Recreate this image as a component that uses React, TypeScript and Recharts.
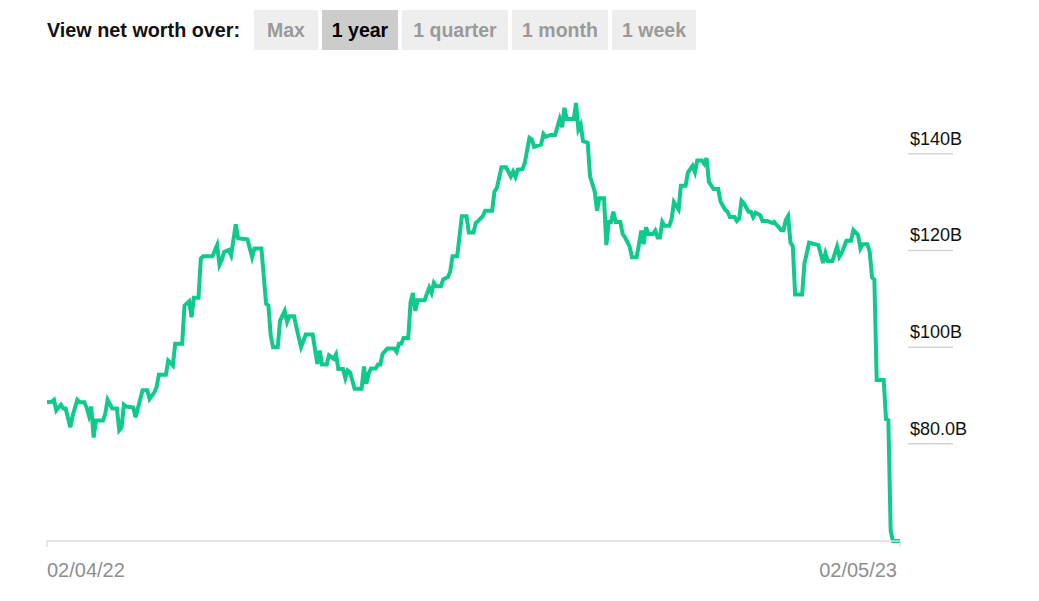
import React from 'react';
import { LineChart, Line, XAxis, YAxis } from 'recharts';

// days since 02/04/22
const days = [
  0, 2, 3, 4, 5, 6, 7, 8, 10, 11, 13, 14, 16, 17, 18, 19, 20, 21, 24, 25,
  26, 28, 30, 31, 32, 33, 34, 37, 38, 41, 43, 44, 46, 47, 48, 51, 52, 54, 55, 58,
  59, 61, 62, 63, 65, 66, 67, 68, 71, 73, 74, 75, 76, 78, 79, 81, 82, 86, 88, 89,
  92, 94, 95, 96, 97, 99, 100, 102, 103, 104, 106, 107, 109, 111, 114, 116, 117, 118, 120, 121,
  123, 124, 125, 127, 128, 129, 130, 132, 135, 136, 137, 138, 139, 141, 142, 143, 144, 146, 149, 150,
  151, 152, 153, 155, 156, 157, 158, 159, 162, 164, 165, 166, 167, 169, 170, 172, 173, 174, 176, 178,
  180, 181, 183, 184, 185, 187, 188, 191, 192, 193, 195, 197, 199, 200, 201, 202, 204, 205, 207, 208,
  209, 212, 213, 214, 216, 218, 220, 221, 222, 223, 226, 227, 228, 229, 230, 232, 233, 235, 236, 237,
  239, 240, 241, 242, 243, 244, 246, 247, 248, 250, 251, 253, 255, 256, 257, 258, 260, 261, 262, 263,
  264, 265, 267, 268, 269, 271, 272, 274, 275, 277, 278, 279, 281, 282, 283, 284, 286, 288, 289, 291,
  292, 293, 295, 296, 297, 298, 299, 301, 302, 303, 304, 306, 307, 309, 311, 312, 315, 316, 317, 318,
  319, 320, 321, 324, 325, 327, 331, 333, 334, 335, 337, 339, 340, 341, 343, 345, 346, 348, 349, 350,
  352, 353, 354, 355, 356, 359, 360, 361, 362, 363, 366,
];

// net worth, $ billions
const netWorth = [
  88.6, 88.7, 89.1, 86.9, 87.5, 88.1, 87.3, 87.3, 83.4, 85.8, 89.1, 88.6, 88.6, 87.5, 85.8, 87.7, 81.3, 84.8, 84.8, 86.2,
  89.1, 87.3, 87.3, 82.8, 83.4, 88.1, 87.7, 87.5, 85.5, 91.1, 91.1, 89.3, 90.6, 91.7, 94.3, 94.3, 97.2, 96.2, 100.7, 100.7,
  108.6, 109.5, 106.2, 110.2, 110.2, 118.3, 118.8, 118.8, 118.8, 121.1, 117.0, 118.0, 119.7, 120.1, 119.0, 125.4, 122.5, 122.3, 118.6, 120.4,
  120.4, 109.0, 108.6, 102.4, 100.0, 100.0, 105.5, 107.5, 105.2, 106.4, 106.4, 104.1, 100.0, 102.6, 102.6, 96.5, 99.3, 96.4, 96.4, 98.3,
  97.6, 98.5, 95.5, 95.5, 93.6, 95.2, 94.8, 91.4, 91.4, 96.0, 92.4, 94.5, 95.6, 95.6, 96.4, 96.4, 98.6, 99.7, 99.7, 99.0,
  100.7, 100.7, 101.9, 101.9, 109.3, 111.2, 107.5, 109.7, 109.7, 112.3, 111.2, 113.3, 112.6, 112.6, 114.0, 114.5, 115.6, 118.8, 118.8, 127.1,
  127.1, 123.7, 123.7, 125.7, 126.1, 127.1, 128.2, 128.2, 132.2, 132.9, 137.2, 137.2, 135.3, 136.3, 135.2, 136.7, 136.8, 138.1, 143.3, 143.0,
  141.4, 141.9, 144.1, 143.5, 143.9, 143.9, 147.2, 145.5, 149.5, 147.2, 147.2, 150.5, 145.0, 146.0, 142.6, 142.3, 135.3, 132.2, 128.2, 130.8,
  130.8, 121.1, 125.9, 125.9, 128.0, 125.9, 125.9, 123.4, 122.7, 120.8, 118.6, 118.6, 124.1, 121.3, 124.8, 123.4, 123.4, 124.1, 122.7, 122.7,
  125.9, 125.1, 125.1, 126.5, 130.0, 128.5, 133.4, 133.4, 136.1, 137.5, 136.2, 138.6, 138.6, 137.9, 139.1, 134.2, 132.7, 132.7, 130.1, 128.4,
  128.0, 126.9, 126.9, 126.1, 126.6, 130.3, 129.8, 128.0, 128.0, 126.9, 127.8, 127.3, 126.1, 126.1, 125.7, 125.9, 124.2, 124.2, 126.3, 127.1,
  121.6, 120.9, 110.9, 110.9, 117.3, 121.6, 121.1, 117.4, 119.4, 117.8, 117.8, 120.8, 118.7, 119.5, 122.0, 122.0, 124.2, 123.2, 120.4, 121.3,
  121.3, 119.7, 114.4, 114.0, 93.2, 93.2, 85.1, 84.9, 61.9, 59.9, 59.9,
];

const xTicks = [0, 366];
const xTickLabels = ['02/04/22', '02/05/23'];
const yTicks = [80, 100, 120, 140];
const periods = ['Max', '1 year', '1 quarter', '1 month', '1 week'];
const selectedPeriod = '1 year';

const FONT = '"Liberation Sans", Arial, Helvetica, sans-serif';
const buttonWidths = [64, 76, 106, 96, 84];

const data = days.map((d, i) => ({ day: d, value: netWorth[i] }));

function YTick(props: any) {
  const { x, y, payload } = props;
  const label = '$' + Number(payload.value).toPrecision(3) + 'B';
  return (
    <g>
      <line x1={x} x2={x + 45} y1={y} y2={y} stroke="#d6d6d6" strokeWidth={1.5} />
      <text x={x + 2} y={y - 9} fontSize={18} fill="#111" fontFamily={FONT}>
        {label}
      </text>
    </g>
  );
}

function XTick(props: any) {
  const { x, y, payload, index } = props;
  const last = index === xTicks.length - 1;
  return (
    <text
      x={last ? x - 3 : x}
      y={y + 28}
      fontSize={20}
      fill="#8f8f8f"
      textAnchor={last ? 'end' : 'start'}
      fontFamily={FONT}
    >
      {xTickLabels[xTicks.indexOf(payload.value)]}
    </text>
  );
}

export default function App() {
  return (
    <div
      style={{
        position: 'absolute',
        left: 0,
        top: 0,
        width: 1039,
        height: 601,
        background: '#fff',
        fontFamily: FONT,
      }}
    >
      <div style={{ position: 'absolute', left: 0, top: 0 }}>
        <LineChart
          width={1039}
          height={601}
          data={data}
          margin={{ top: 103, right: 39, bottom: 20, left: 47 }}
        >
          <XAxis
            dataKey="day"
            type="number"
            domain={[0, 366]}
            ticks={xTicks}
            tick={<XTick />}
            height={40}
            axisLine={{ stroke: '#dcdcdc', strokeWidth: 1.5 }}
            tickLine={{ stroke: '#cfcfcf' }}
            tickSize={6}
            interval={0}
          />
          <YAxis
            orientation="right"
            type="number"
            domain={['dataMin', 'dataMax']}
            ticks={yTicks}
            tick={<YTick />}
            tickSize={0}
            tickMargin={8}
            axisLine={false}
            tickLine={false}
            width={100}
            interval={0}
          />
          <Line
            type="linear"
            dataKey="value"
            stroke="#10c98c"
            strokeWidth={4}
            dot={false}
            isAnimationActive={false}
          />
        </LineChart>
      </div>
      <div
        style={{
          position: 'absolute',
          left: 47,
          top: 10,
          height: 40,
          display: 'flex',
          alignItems: 'center',
          fontSize: 19.8,
          fontWeight: 'bold',
          color: '#111',
        }}
      >
        View net worth over:
      </div>
      <div style={{ position: 'absolute', left: 254, top: 10, display: 'flex', gap: 4 }}>
        {periods.map((p, i) => {
          const sel = p === selectedPeriod;
          return (
            <div
              key={p}
              style={{
                width: buttonWidths[i],
                height: 40,
                display: 'flex',
                alignItems: 'center',
                justifyContent: 'center',
                background: sel ? '#cccccc' : '#eeeeee',
                color: sel ? '#000' : '#9a9a9a',
                fontWeight: 'bold',
                fontSize: 19.5,
              }}
            >
              {p}
            </div>
          );
        })}
      </div>
    </div>
  );
}
